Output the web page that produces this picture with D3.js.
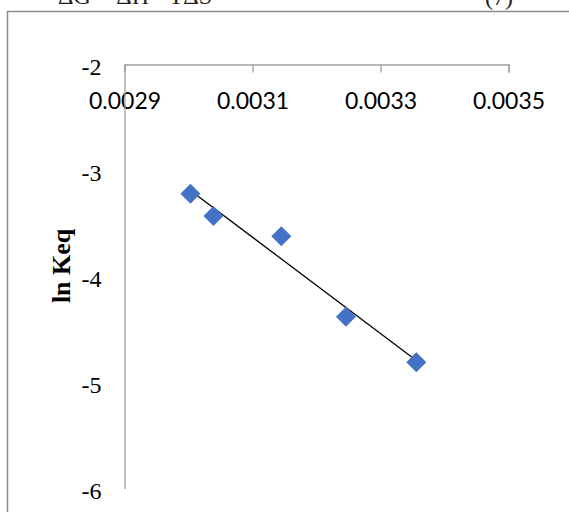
<!DOCTYPE html>
<html>
<head>
<meta charset="utf-8">
<script src="https://cdn.jsdelivr.net/npm/d3@7"></script>
<style>
  html, body { margin: 0; padding: 0; background: #fff; }
  svg { display: block; }
</style>
</head>
<body>
<svg id="chart" width="569" height="512"></svg>
<script>
// ---- data ----
const invT = [0.003003, 0.003039, 0.003145, 0.003246, 0.003356];
const lnKeq = [-3.22, -3.43, -3.62, -4.38, -4.81];
const xTicks = [0.0029, 0.0031, 0.0033, 0.0035];
const yTicks = [-2, -3, -4, -5, -6];
const yTitle = "ln Keq";
const eqText = "ΔG = ΔH - TΔS";
const eqNumber = "(7)";

const svg = d3.select("#chart");
svg.append("rect").attr("width", 569).attr("height", 512).attr("fill", "#fff");

// cut-off equation text from the surrounding document
svg.append("text").attr("x", 58).attr("y", 4)
  .attr("font-family", "Liberation Serif, Times New Roman, serif")
  .attr("font-size", 24).attr("fill", "#222").text(eqText);
svg.append("text").attr("x", 485).attr("y", 5)
  .attr("font-family", "Liberation Serif, Times New Roman, serif")
  .attr("font-size", 24).attr("fill", "#222").text(eqNumber);

// chart area border
svg.append("rect").attr("x", 7.5).attr("y", 11.5).attr("width", 600).attr("height", 600)
  .attr("fill", "none").attr("stroke", "#8a8a8a").attr("stroke-width", 1.5);

const x = d3.scaleLinear().domain([0.0029, 0.0035]).range([124.5, 508.5]);
const y = d3.scaleLinear().domain([-2, -6]).range([64.5, 488.5]);

// x axis at top (crosses at y = -2), ticks pointing down
const xAxis = svg.append("g").attr("transform", `translate(0,${y(-2)})`)
  .call(d3.axisBottom(x).tickValues(xTicks).tickSize(8).tickSizeOuter(8).tickPadding(20)
        .tickFormat(d3.format(".4f")));
xAxis.selectAll("path, line").attr("stroke", "#a0a0a0").attr("stroke-width", 1.3);
xAxis.selectAll("text").attr("font-family", "Lato, Carlito, Calibri, sans-serif")
  .attr("font-size", 23).attr("fill", "#000");

// y axis without tick marks
const yAxis = svg.append("g").attr("transform", `translate(${x(0.0029)},0)`)
  .call(d3.axisLeft(y).tickValues(yTicks).tickSize(0).tickSizeOuter(0).tickPadding(23)
        .tickFormat(d => String(d)));
yAxis.select("path").attr("stroke", "#a0a0a0").attr("stroke-width", 1.3);
yAxis.selectAll("text").attr("font-family", "Liberation Serif, Times New Roman, serif")
  .attr("font-size", 24).attr("fill", "#000").attr("dy", "0.4em");

// y title
svg.append("text")
  .attr("transform", `translate(70,${(y(-3.9))}) rotate(-90)`)
  .attr("text-anchor", "middle")
  .attr("font-family", "Liberation Serif, Times New Roman, serif")
  .attr("font-weight", "bold").attr("font-size", 26).attr("fill", "#000")
  .text(yTitle);

// linear trendline (least squares)
const pts = invT.map((v, i) => [v, lnKeq[i]]);
const mx = d3.mean(invT), my = d3.mean(lnKeq);
const slope = d3.sum(pts, p => (p[0] - mx) * (p[1] - my)) / d3.sum(pts, p => (p[0] - mx) ** 2);
const icpt = my - slope * mx;
const x0 = d3.min(invT), x1 = d3.max(invT);
svg.append("line")
  .attr("x1", x(x0)).attr("y1", y(icpt + slope * x0))
  .attr("x2", x(x1)).attr("y2", y(icpt + slope * x1))
  .attr("stroke", "#000").attr("stroke-width", 1.3);

// diamond markers
const sym = d3.symbol().type(d3.symbolSquare).size(200);
svg.append("g").selectAll("path").data(pts).join("path")
  .attr("d", sym)
  .attr("transform", d => `translate(${x(d[0])},${y(d[1])}) rotate(45)`)
  .attr("fill", "#4472C4");
</script>
</body>
</html>
